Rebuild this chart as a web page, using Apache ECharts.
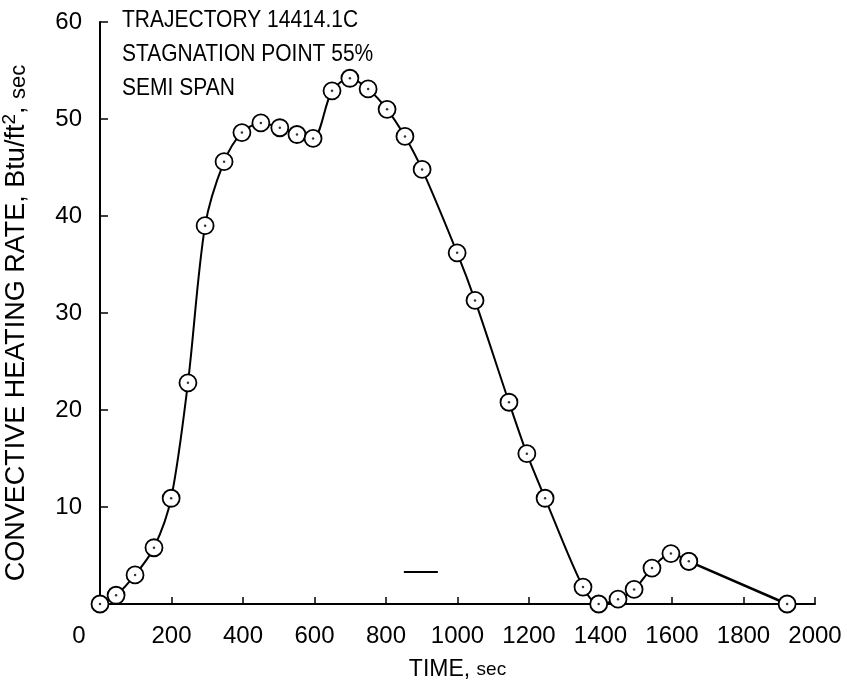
<!DOCTYPE html>
<html>
<head>
<meta charset="utf-8">
<script src="https://cdn.jsdelivr.net/npm/echarts@6/dist/echarts.min.js"></script>
<style>html,body{margin:0;padding:0;background:#fff}#c{width:847px;height:686px}</style>
</head>
<body>
<div id="c"></div>
<script>
// ---- data ----
var timeSec = [0, 45, 98, 151, 199, 246, 294, 347, 397, 450, 503, 551, 596, 649, 699, 750, 803, 853, 901, 999, 1049, 1144, 1194, 1245, 1351, 1395, 1449, 1494, 1544, 1597, 1647];
var heatRate = [0, 0.9, 3.0, 5.8, 10.9, 22.8, 39.0, 45.6, 48.6, 49.6, 49.1, 48.4, 48.0, 52.9, 54.2, 53.1, 51.0, 48.2, 44.8, 36.2, 31.3, 20.8, 15.5, 10.9, 1.75, 0.0, 0.5, 1.5, 3.7, 5.2, 4.4];
var tailTime = [1647, 1922];
var tailRate = [4.4, 0];
var stubTime = [850, 945];
var stubRate = [3.3, 3.3];
var xTicks = [0, 200, 400, 600, 800, 1000, 1200, 1400, 1600, 1800, 2000];
var yTicks = [0, 10, 20, 30, 40, 50, 60];
var noteLines = ['TRAJECTORY 14414.1C', 'STAGNATION POINT 55%', 'SEMI SPAN'];

function pairs(xs, ys) { return xs.map(function (x, i) { return [x, ys[i]]; }); }

var FONT = '"Liberation Sans", Arial, Helvetica, sans-serif';
var chart = echarts.init(document.getElementById('c'), null, { renderer: 'canvas' });

var main = pairs(timeSec, heatRate);
var tail = pairs(tailTime, tailRate);
var allPts = main.concat([tail[1]]);

var option = {
  backgroundColor: '#fff',
  animation: false,
  grid: { left: 100, right: 32, top: 22, bottom: 82, containLabel: false, outerBoundsMode: 'none' },
  xAxis: {
    type: 'value', min: xTicks[0], max: xTicks[xTicks.length - 1], interval: 200,
    splitLine: { show: false },
    axisLine: { show: true, onZero: false, lineStyle: { color: '#000', width: 2 } },
    axisTick: { show: true, inside: true, length: 7, lineStyle: { color: '#000', width: 1.5 } },
    axisLabel: {
      color: '#000', fontFamily: FONT, fontSize: 24, margin: 20,
      formatter: function (v) { return v === 0 ? '{z|0}' : String(v); },
      rich: { z: { fontSize: 24, fontFamily: FONT, color: '#000', padding: [0, 42, 0, 0] } }
    },
    name: '{a|TIME, }{b|sec}', nameLocation: 'middle', nameGap: 54,
    nameTextStyle: {
      rich: {
        a: { fontSize: 23, fontFamily: FONT, color: '#000' },
        b: { fontSize: 19, fontFamily: FONT, color: '#000' }
      }
    }
  },
  yAxis: {
    type: 'value', min: yTicks[0], max: yTicks[yTicks.length - 1], interval: 10,
    splitLine: { show: false },
    axisLine: { show: true, lineStyle: { color: '#000', width: 2 } },
    axisTick: { show: true, inside: true, length: 8, lineStyle: { color: '#000', width: 1.5 } },
    axisLabel: {
      color: '#000', fontFamily: FONT, fontSize: 24, margin: 18,
      formatter: function (v) { return v === 0 ? '' : String(v); }
    },
    name: '{a|CONVECTIVE HEATING RATE, Btu/ft}{s|2}{a|, }{b|sec}',
    nameLocation: 'middle', nameRotate: 90, nameGap: 70,
    nameTextStyle: {
      padding: [0, 20, 0, 0],
      rich: {
        a: { fontSize: 27, fontFamily: FONT, color: '#000', verticalAlign: 'bottom', lineHeight: 30 },
        s: { fontSize: 19, fontFamily: FONT, color: '#000', verticalAlign: 'top', lineHeight: 30 },
        b: { fontSize: 22, fontFamily: FONT, color: '#000', verticalAlign: 'bottom', lineHeight: 30 }
      }
    }
  },
  series: [
    {
      type: 'line', data: main, smooth: 0.3,
      symbol: 'circle', symbolSize: 17,
      lineStyle: { color: '#000', width: 2 },
      itemStyle: { color: '#fff', borderColor: '#000', borderWidth: 1.8 },
      z: 3
    },
    {
      type: 'line', data: tail, smooth: false,
      symbol: 'circle', symbolSize: 17, showSymbol: true,
      lineStyle: { color: '#000', width: 2.5 },
      itemStyle: { color: '#fff', borderColor: '#000', borderWidth: 1.8 },
      z: 3
    },
    {
      type: 'scatter', data: allPts, symbol: 'circle', symbolSize: 2.5,
      itemStyle: { color: '#000' }, z: 5, silent: true
    },
    {
      type: 'line', data: pairs(stubTime, stubRate), symbol: 'none',
      lineStyle: { color: '#000', width: 2 }, z: 2
    }
  ],
  graphic: noteLines.map(function (t, i) {
    return {
      type: 'text', x: 122, y: 20 + i * 34, scaleY: 1.15,
      style: { text: t, fontSize: 21, fontFamily: FONT, fill: '#000', verticalAlign: 'middle' }
    };
  })
};
chart.setOption(option);
</script>
</body>
</html>
